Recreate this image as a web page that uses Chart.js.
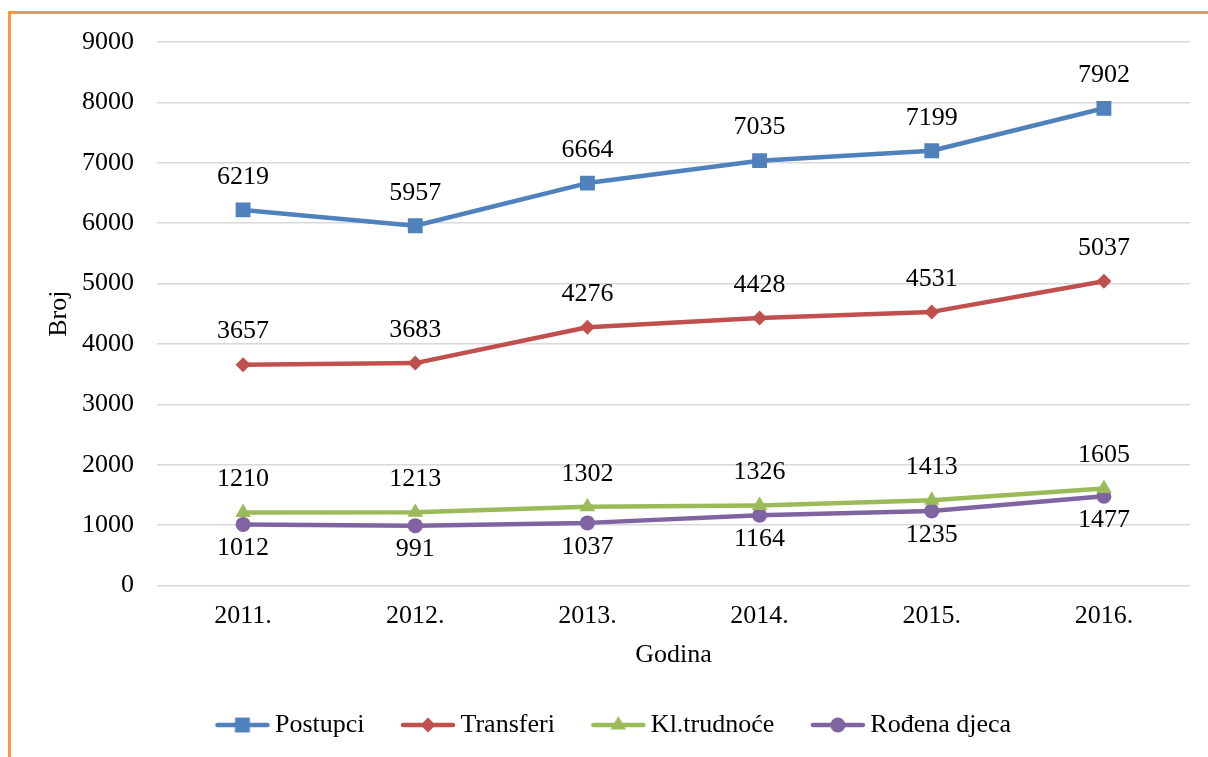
<!DOCTYPE html>
<html>
<head>
<meta charset="utf-8">
<script src="https://cdn.jsdelivr.net/npm/chart.js@4/dist/chart.umd.min.js"></script>
<style>
  html, body { margin: 0; padding: 0; background: #fff; width: 1208px; height: 757px; overflow: hidden; }
  #wrap { position: absolute; left: 0; top: 0; width: 1208px; height: 757px; }
  #frame { position: absolute; left: 8px; top: 11px; width: 1400px; height: 900px;
           border-left: 3px solid #F79646; border-top: 3px solid #F79646; pointer-events: none; }
</style>
</head>
<body>
<div id="wrap"><canvas id="c" width="1208" height="757"></canvas></div>
<div id="frame"></div>
<script>
const categories = ['2011.', '2012.', '2013.', '2014.', '2015.', '2016.'];
const seriesNames = ['Postupci', 'Transferi', 'Kl.trudnoće', 'Rođena djeca'];
const postupci = [6219, 5957, 6664, 7035, 7199, 7902];
const transferi = [3657, 3683, 4276, 4428, 4531, 5037];
const klTrudnoce = [1210, 1213, 1302, 1326, 1413, 1605];
const rodjenaDjeca = [1012, 991, 1037, 1164, 1235, 1477];
const yTicks = [0, 1000, 2000, 3000, 4000, 5000, 6000, 7000, 8000, 9000];

const colors = ['#4F81BD', '#C0504D', '#9BBB59', '#8064A2'];
const pStyles = ['rect', 'rectRot', 'triangle', 'circle'];
const pRadius = [10.5, 7.5, 9, 7.5];
const labelSide = ['above', 'above', 'above', 'below'];
const FONT = '"Liberation Serif", "Times New Roman", serif';

function markerPath(ctx, style, r, x, y) {
  ctx.beginPath();
  if (style === 'rect') {
    const s = Math.SQRT1_2 * r;
    ctx.rect(x - s, y - s, 2 * s, 2 * s);
  } else if (style === 'rectRot') {
    ctx.moveTo(x, y - r); ctx.lineTo(x + r, y); ctx.lineTo(x, y + r); ctx.lineTo(x - r, y); ctx.closePath();
  } else if (style === 'triangle') {
    let a = 0;
    ctx.moveTo(x + Math.sin(a) * r, y - Math.cos(a) * r);
    a += 2 * Math.PI / 3; ctx.lineTo(x + Math.sin(a) * r, y - Math.cos(a) * r);
    a += 2 * Math.PI / 3; ctx.lineTo(x + Math.sin(a) * r, y - Math.cos(a) * r);
    ctx.closePath();
  } else {
    ctx.arc(x, y, r, 0, Math.PI * 2);
  }
}

const legendImgs = colors.map((col, i) => {
  const cv = document.createElement('canvas');
  cv.width = 56; cv.height = 22;
  const g = cv.getContext('2d');
  g.strokeStyle = col; g.lineWidth = 4.5; g.lineCap = 'round';
  g.beginPath(); g.moveTo(3, 11); g.lineTo(53, 11); g.stroke();
  g.fillStyle = col;
  markerPath(g, pStyles[i], pRadius[i], 28, 11);
  g.fill();
  return cv;
});

const allData = [postupci, transferi, klTrudnoce, rodjenaDjeca];

const dataLabelPlugin = {
  id: 'dataLabels',
  afterDatasetsDraw(chart) {
    const ctx = chart.ctx;
    ctx.save();
    ctx.font = '26px ' + FONT;
    ctx.fillStyle = '#000';
    ctx.textAlign = 'center';
    ctx.textBaseline = 'middle';
    chart.data.datasets.forEach((ds, i) => {
      const meta = chart.getDatasetMeta(i);
      meta.data.forEach((pt, j) => {
        const dy = labelSide[i] === 'above' ? -33 : 24;
        ctx.fillText(String(ds.data[j]), pt.x, pt.y + dy);
      });
    });
    ctx.restore();
  }
};

Chart.defaults.font.family = FONT;
Chart.defaults.font.size = 26;
Chart.defaults.color = '#000';

new Chart(document.getElementById('c'), {
  type: 'line',
  data: {
    labels: categories,
    datasets: allData.map((d, i) => ({
      label: seriesNames[i],
      data: d,
      borderColor: colors[i],
      backgroundColor: colors[i],
      borderWidth: 4.5,
      pointStyle: pStyles[i],
      pointRadius: pRadius[i],
      pointHoverRadius: pRadius[i],
      pointBorderWidth: 0,
      pointBackgroundColor: colors[i],
      tension: 0,
      fill: false,
      borderJoinStyle: 'round',
      borderCapStyle: 'round'
    }))
  },
  options: {
    responsive: false,
    animation: false,
    devicePixelRatio: 1,
    layout: { padding: { left: 44, right: 18, top: 42, bottom: 9 } },
    plugins: {
      tooltip: { enabled: false },
      legend: {
        position: 'bottom',
        labels: {
          usePointStyle: true,
          pointStyleWidth: 39,
          padding: 44,
          color: '#000',
          font: { size: 26, family: FONT },
          generateLabels(chart) {
            const items = Chart.defaults.plugins.legend.labels.generateLabels(chart);
            return items.map((it, i) => Object.assign(it, { pointStyle: legendImgs[i] }));
          }
        }
      }
    },
    scales: {
      x: {
        offset: true,
        grid: { display: false, drawTicks: false },
        border: { display: false },
        ticks: { padding: 15, font: { size: 26, family: FONT }, color: '#000' },
        title: { display: true, text: 'Godina', font: { size: 26, family: FONT, lineHeight: 1 }, padding: { top: 0, bottom: 0 }, color: '#000' },
        afterFit(scale) { scale.height = 82.5; }
      },
      y: {
        min: 0,
        max: 9000,
        afterBuildTicks(scale) { scale.ticks = yTicks.map(v => ({ value: v })); },
        grid: { color: '#D9D9D9', lineWidth: 1.5, drawTicks: false },
        border: { display: false },
        ticks: { padding: 23, font: { size: 26, family: FONT }, color: '#000', callback: v => String(v) },
        title: { display: true, text: 'Broj', font: { size: 26, family: FONT }, padding: { top: 0, bottom: 0 }, color: '#000' },
        afterFit(scale) { scale.width = 113; }
      }
    }
  },
  plugins: [dataLabelPlugin]
});
</script>
</body>
</html>
